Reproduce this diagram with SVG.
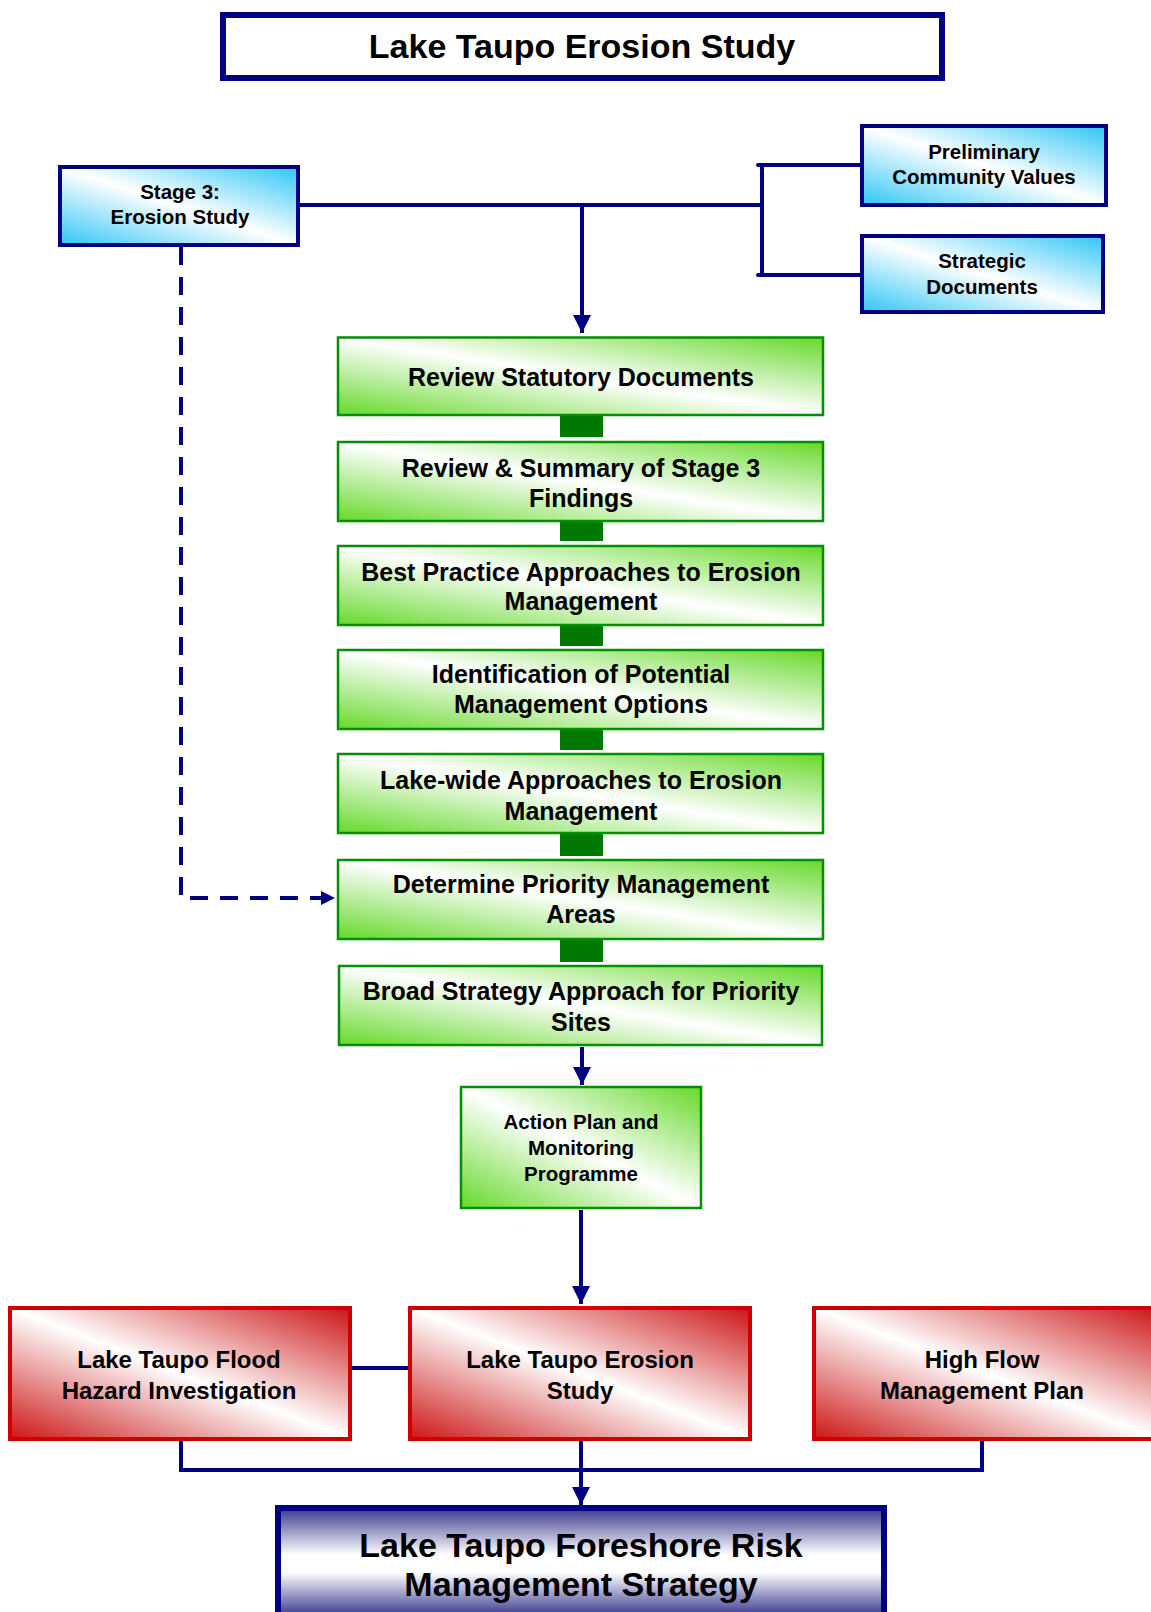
<svg xmlns="http://www.w3.org/2000/svg" width="1151" height="1612" viewBox="0 0 1151 1612">
<defs>
  <linearGradient id="gBlue" x1="0" y1="1" x2="1" y2="0">
    <stop offset="0" stop-color="#2ec6f6"/>
    <stop offset="0.5" stop-color="#ffffff"/>
    <stop offset="1" stop-color="#2ec6f6"/>
  </linearGradient>
  <linearGradient id="gGreen" x1="0" y1="1" x2="1" y2="0">
    <stop offset="0" stop-color="#66d92a"/>
    <stop offset="0.5" stop-color="#ffffff"/>
    <stop offset="1" stop-color="#66d92a"/>
  </linearGradient>
  <linearGradient id="gRed" x1="0" y1="1" x2="1" y2="0">
    <stop offset="0" stop-color="#cc1515"/>
    <stop offset="0.5" stop-color="#ffffff"/>
    <stop offset="1" stop-color="#cc1515"/>
  </linearGradient>
  <linearGradient id="gNavy" gradientUnits="userSpaceOnUse" x1="0" y1="1508" x2="0" y2="1612">
    <stop offset="0" stop-color="#38388c"/>
    <stop offset="0.45" stop-color="#ffffff"/>
    <stop offset="0.62" stop-color="#ffffff"/>
    <stop offset="1" stop-color="#4a4a98"/>
  </linearGradient>
  <marker id="arr" markerUnits="userSpaceOnUse" markerWidth="18" markerHeight="18" viewBox="0 0 16 16" refX="16" refY="8" orient="auto">
    <path d="M0,0 L16,8 L0,16 Z" fill="#000080"/>
  </marker>
  <marker id="arrS" markerUnits="userSpaceOnUse" markerWidth="14" markerHeight="14" viewBox="0 0 14 14" refX="14" refY="7" orient="auto">
    <path d="M0,0 L14,7 L0,14 Z" fill="#000080"/>
  </marker>
  <style>
    text { font-family: "Liberation Sans", Arial, sans-serif; font-weight: bold; fill: #000; text-anchor: middle; }
    .blue { fill: url(#gBlue); stroke: #000080; stroke-width: 4; }
    .green { fill: url(#gGreen); stroke: #009000; stroke-width: 2.5; }
    .red { fill: url(#gRed); stroke: #d00000; stroke-width: 4; }
    .blk { fill: #007800; }
    .ln { fill: none; stroke: #000080; stroke-width: 4; }
    .t25 { font-size: 25px; }
    .t20 { font-size: 20.5px; }
    .t24 { font-size: 24px; }
    .t34 { font-size: 34px; }
  </style>
</defs>

<g id="connectors">
  <path class="ln" d="M300,205 H762" stroke-width="5"/>
  <path class="ln" d="M758,165 H862 M762,165 V275 M758,275 H862" stroke-width="5" stroke-linecap="round"/>
  <path class="ln" d="M582,205 V333" marker-end="url(#arr)"/>
  <path class="ln" d="M181,247 V898 H335" stroke-width="4.5" stroke-dasharray="18 12" marker-end="url(#arrS)"/>
  <rect class="blk" x="560" y="416" width="43" height="21"/>
  <rect class="blk" x="560" y="521" width="43" height="20"/>
  <rect class="blk" x="560" y="625" width="43" height="21"/>
  <rect class="blk" x="560" y="729" width="43" height="21"/>
  <rect class="blk" x="560" y="833" width="43" height="23"/>
  <rect class="blk" x="560" y="939" width="43" height="23"/>
  <path class="ln" d="M582,1047 V1085" marker-end="url(#arr)"/>
  <path class="ln" d="M581,1210 V1304" marker-end="url(#arr)"/>
  <path class="ln" d="M352,1368 H408"/>
  <path class="ln" d="M181,1441 V1470 H982 V1441"/>
  <path class="ln" d="M581,1441 V1505" marker-end="url(#arr)"/>
</g>

<g id="title">
  <rect x="223" y="15" width="719" height="63" fill="#fff" stroke="#000080" stroke-width="6"/>
  <text class="t34" x="582" y="58">Lake Taupo Erosion Study</text>
</g>

<g id="stage3">
  <rect class="blue" x="60" y="167" width="238" height="78"/>
  <text class="t20" x="180" y="199">Stage 3:</text>
  <text class="t20" x="180" y="224">Erosion Study</text>
</g>

<g id="prelim">
  <rect class="blue" x="862" y="126" width="244" height="79"/>
  <text class="t20" x="984" y="159">Preliminary</text>
  <text class="t20" x="984" y="184">Community Values</text>
</g>

<g id="strategic">
  <rect class="blue" x="862" y="236" width="241" height="76"/>
  <text class="t20" x="982" y="268">Strategic</text>
  <text class="t20" x="982" y="294">Documents</text>
</g>

<g id="box1">
  <rect class="green" x="338" y="337.5" width="485" height="77.5"/>
  <text class="t25" x="581" y="386">Review Statutory Documents</text>
</g>

<g id="box2">
  <rect class="green" x="338" y="442" width="485" height="79"/>
  <text class="t25" x="581" y="477">Review &amp; Summary of Stage 3</text>
  <text class="t25" x="581" y="507">Findings</text>
</g>

<g id="box3">
  <rect class="green" x="338" y="546" width="485" height="79"/>
  <text class="t25" x="581" y="581">Best Practice Approaches to Erosion</text>
  <text class="t25" x="581" y="610">Management</text>
</g>

<g id="box4">
  <rect class="green" x="338" y="650" width="485" height="79"/>
  <text class="t25" x="581" y="683">Identification of Potential</text>
  <text class="t25" x="581" y="713">Management Options</text>
</g>

<g id="box5">
  <rect class="green" x="338" y="754" width="485" height="79"/>
  <text class="t25" x="581" y="789">Lake-wide Approaches to Erosion</text>
  <text class="t25" x="581" y="820">Management</text>
</g>

<g id="box6">
  <rect class="green" x="338" y="860" width="485" height="79"/>
  <text class="t25" x="581" y="893">Determine Priority Management</text>
  <text class="t25" x="581" y="923">Areas</text>
</g>

<g id="box7">
  <rect class="green" x="339" y="966" width="483" height="79" stroke-width="4"/>
  <text class="t25" x="581" y="1000">Broad Strategy Approach for Priority</text>
  <text class="t25" x="581" y="1031">Sites</text>
</g>

<g id="action">
  <rect class="green" x="461" y="1087" width="240" height="121" stroke-width="4"/>
  <text class="t20" x="581" y="1129">Action Plan and</text>
  <text class="t20" x="581" y="1155">Monitoring</text>
  <text class="t20" x="581" y="1181">Programme</text>
</g>

<g id="flood">
  <rect class="red" x="10" y="1308" width="340" height="131"/>
  <text class="t24" x="179" y="1368">Lake Taupo Flood</text>
  <text class="t24" x="179" y="1399">Hazard Investigation</text>
</g>

<g id="erosion">
  <rect class="red" x="410" y="1308" width="340" height="131"/>
  <text class="t24" x="580" y="1368">Lake Taupo Erosion</text>
  <text class="t24" x="580" y="1399">Study</text>
</g>

<g id="highflow">
  <rect class="red" x="814" y="1308" width="345" height="131"/>
  <text class="t24" x="982" y="1368">High Flow</text>
  <text class="t24" x="982" y="1399">Management Plan</text>
</g>

<g id="final">
  <rect x="278" y="1508" width="606" height="130" fill="url(#gNavy)" stroke="#000080" stroke-width="6"/>
  <text class="t34" x="581" y="1557">Lake Taupo Foreshore Risk</text>
  <text class="t34" x="581" y="1596">Management Strategy</text>
</g>
</svg>
